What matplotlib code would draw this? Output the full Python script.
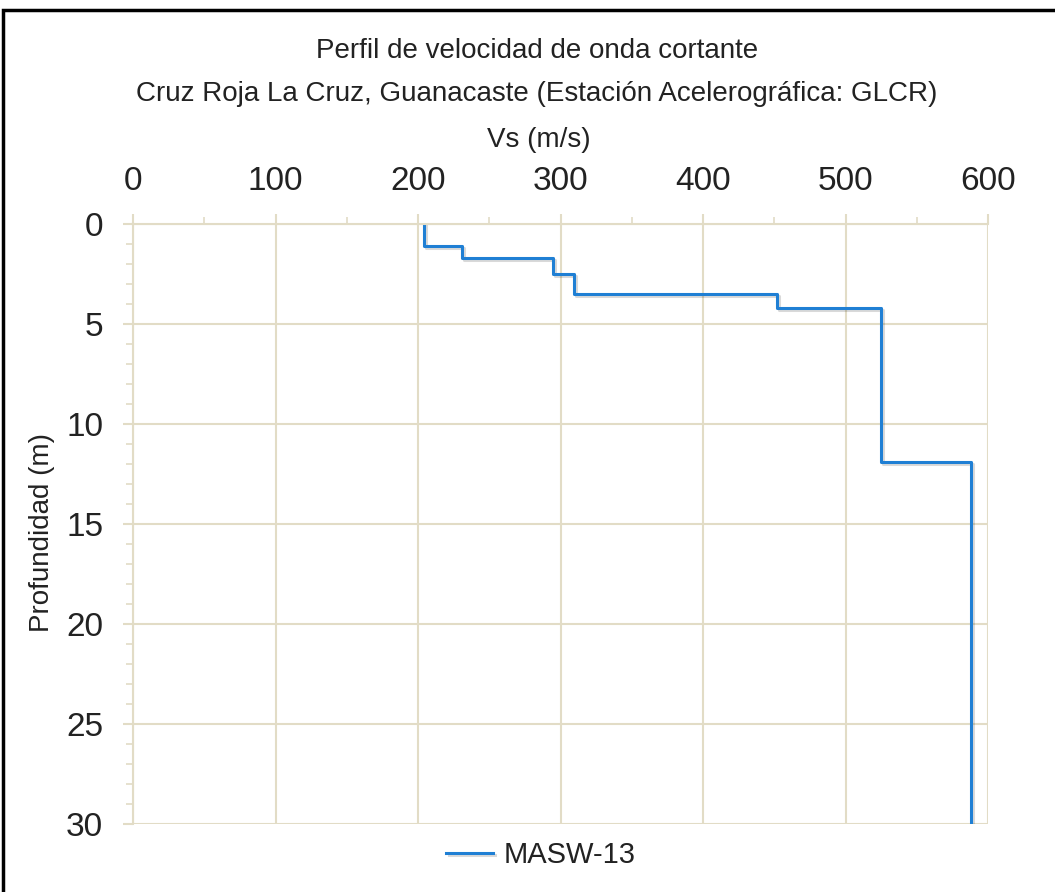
import matplotlib
matplotlib.use("Agg")
import matplotlib.pyplot as plt
import matplotlib.patheffects as pe
from matplotlib.patches import Rectangle
from matplotlib.ticker import MultipleLocator

# Shear-wave velocity profile (layer velocities and layer bottoms)
vs_layers = [204, 231, 294.5, 309.5, 452, 525, 588]
layer_bottoms = [1.08, 1.7, 2.5, 3.5, 4.18, 11.9, 30]
series_name = "MASW-13"
title_lines = ["Perfil de velocidad de onda cortante",
               "Cruz Roja La Cruz, Guanacaste (Estación Acelerográfica: GLCR)"]

# build step profile
vs = []
depth = []
top = 0
for v, b in zip(vs_layers, layer_bottoms):
    vs += [v, v]
    depth += [top, b]
    top = b

plt.rcParams["font.family"] = ["Liberation Sans", "DejaVu Sans"]
grid_col = "#e2dcc6"
txt_col = "#222222"

fig = plt.figure(figsize=(10.55, 8.92), dpi=100)
ax = fig.add_axes([0.1261, 0.0762, 0.8104, 0.6727])

ax.plot(vs, depth, color="#1f7fd4", lw=2.2, label=series_name,
        path_effects=[pe.SimpleLineShadow(offset=(1.5, -1.5), alpha=0.15), pe.Normal()])

ax.set_xlim(0, 600)
ax.set_ylim(30, 0)
ax.xaxis.tick_top()
ax.xaxis.set_label_position("top")
ax.xaxis.set_major_locator(MultipleLocator(100))
ax.xaxis.set_minor_locator(MultipleLocator(50))
ax.yaxis.set_major_locator(MultipleLocator(5))
ax.yaxis.set_minor_locator(MultipleLocator(1))
ax.grid(True, which="major", color=grid_col, lw=1.5)
ax.tick_params(which="major", direction="out", length=7.5, width=1.5, color=grid_col,
               labelsize=24, labelcolor=txt_col)
ax.tick_params(axis="x", which="major", pad=12)
ax.tick_params(axis="y", which="major", pad=14)
ax.tick_params(which="minor", direction="out", length=5, width=1.2, color=grid_col)

for side in ["top", "left"]:
    ax.spines[side].set_color(grid_col)
    ax.spines[side].set_linewidth(1.5)
for side in ["bottom", "right"]:
    ax.spines[side].set_visible(False)

ax.set_xlabel("Vs (m/s)", fontsize=20, color=txt_col, va="center")
ax.xaxis.set_label_coords(0.475, 1 + 84 / 600)
ax.set_ylabel("Profundidad (m)", fontsize=20, color=txt_col, va="center")
ax.yaxis.set_label_coords(-91 / 855, 0.5 - 8 / 600)

fig.text(537 / 1055, 1 - 51 / 892, title_lines[0], ha="center", va="center",
         fontsize=20, color=txt_col)
fig.text(537 / 1055, 1 - 94 / 892, title_lines[1], ha="center", va="center",
         fontsize=20, color=txt_col)

ax.legend(loc="center", bbox_to_anchor=(0.477, -31 / 600), frameon=False,
          prop={"size": 21}, handlelength=1.6, handletextpad=0.35,
          labelcolor=txt_col)

# outer frame
fig.patches.append(Rectangle((3 / 1055, -0.01), 1.1, 1 - 10 / 892 + 0.01,
                             transform=fig.transFigure, fill=False,
                             edgecolor="black", lw=2.5))

fig.savefig("out.png", dpi=100)
